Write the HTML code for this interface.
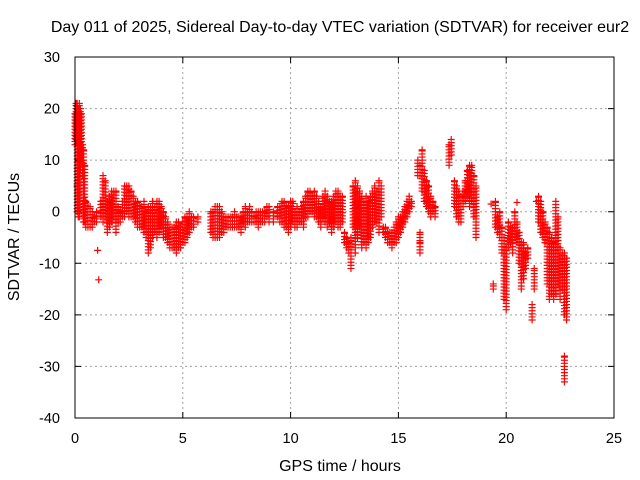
<!DOCTYPE html>
<html><head><meta charset="utf-8"><style>
body{margin:0;background:#fff}
svg{display:block;font-family:"Liberation Sans",sans-serif}
</style></head><body>
<svg id="chart" width="640" height="480">
<rect width="640" height="480" fill="#fff"/>
<text x="340" y="32" text-anchor="middle" font-size="16">Day 011 of 2025, Sidereal Day-to-day VTEC variation (SDTVAR) for receiver eur2</text>
<text transform="translate(19,237) rotate(-90)" text-anchor="middle" font-size="16">SDTVAR / TECUs</text>
<text x="340" y="471" text-anchor="middle" font-size="16">GPS time / hours</text>
<g id="grid"></g><g id="marks"></g>
<rect x="75" y="57" width="539" height="361" fill="none" stroke="#000" stroke-width="1"/>
</svg>
<script>
const xTicks=[0,5,10,15,20,25];
const yTicks=[-40,-30,-20,-10,0,10,20,30];
const rangeT=[0,0.05,0.1,0.15,0.2,0.25,0.3,0.35,0.4,0.45,0.5,0.6,0.7,0.8,0.9,1.0,1.2,1.3,1.4,1.5,1.6,1.7,1.8,1.9,2.0,2.1,2.2,2.3,2.4,2.5,2.6,2.7,2.8,2.9,3.0,3.1,3.2,3.3,3.4,3.5,3.6,3.7,3.8,3.9,4.0,4.1,4.2,4.3,4.4,4.5,4.6,4.7,4.8,4.9,5.0,5.1,5.2,5.3,5.4,5.5,5.7,6.3,6.4,6.5,6.6,6.7,6.8,6.9,7.0,7.1,7.2,7.3,7.4,7.5,7.6,7.7,7.8,7.9,8.0,8.1,8.2,8.3,8.4,8.5,8.6,8.7,8.8,8.9,9.0,9.2,9.4,9.5,9.6,9.7,9.8,9.9,10.0,10.1,10.2,10.3,10.4,10.5,10.6,10.7,10.8,10.9,11.0,11.1,11.2,11.3,11.4,11.5,11.6,11.7,11.8,11.9,12.0,12.1,12.2,12.3,12.4,12.5,12.6,12.7,12.8,12.9,13.0,13.1,13.2,13.3,13.4,13.5,13.6,13.7,13.8,13.9,14.0,14.1,14.2,14.3,14.4,14.5,14.6,14.7,14.8,14.9,15.0,15.1,15.2,15.3,15.4,15.5,15.6,15.9,16.0,16.0,16.1,16.2,16.3,16.4,16.5,16.6,16.7,17.35,17.45,17.6,17.7,17.8,17.9,18.0,18.1,18.2,18.3,18.4,18.5,18.6,19.4,19.5,19.6,19.7,19.8,19.9,20.0,20.1,20.2,20.3,20.4,20.5,20.6,20.7,20.8,20.9,21.0,21.2,21.3,21.5,21.6,21.7,21.8,21.9,22.0,22.1,22.2,22.3,22.4,22.5,22.6,22.7,22.8,22.7];
const rangeLo=[13,14,0,-1,-1,8,10,7,-2,-2,-3,-3,-3,-3,-2,-2,-1,-2,-1,-4,-3,-2,-1,-4,-2,-2,-1,-1,0,-1,-1,-1,-2,-3,-3,-3,-4,-5,-8,-7,-5,-4,-5,-4,-3,-5,-5,-6,-7,-7,-7,-8,-7,-7,-6,-6,-5,-4,-3,-3,-2,-4,-5,-5,-5,-5,-4,-4,-3,-3,-3,-3,-3,-3,-3,-4,-2,-3,-2,-2,-2,-2,-2,-3,-2,-2,-2,-1,-2,-2,-1,-2,-2,-3,-3,-4,-3,-2,-3,-3,-2,-2,-3,-1,-1,0,0,-1,-1,-2,-3,-1,-2,-3,-2,-4,-3,-2,-3,-3,-2,-6,-7,-8,-11,-3,-7,-5,-3,-7,-6,-7,-6,-5,-3,-2,-2,-4,-1,-4,-5,-6,-6,-7,-6,-6,-5,-4,-3,-2,-1,0,1,7,-8,7,4,2,1,0,-1,0,-1,9,11,1,-1,-2,-2,1,2,3,1,2,-1,-5,-15,-3,-4,-5,-8,-17,-19,-7,-6,-8,-5,-6,-10,-15,-13,-11,-9,-21,-15,-2,-4,-5,-6,-14,-17,-16,-17,-16,-14,-17,-15,-20,-21,-33];
const rangeHi=[19,21,21,20,21,20,19,13,12,9,2,1,1,0,-1,0,2,7,6,2,3,4,4,4,1,0,2,5,5,5,4,3,2,2,1,1,2,0,1,1,2,1,2,2,1,0,-1,-2,-3,-3,-3,-2,-2,-3,-2,-1,-1,0,-1,-1,-1,0,0,1,1,1,0,-1,-1,-1,-1,-1,0,-1,-1,-1,0,1,0,1,0,-1,0,0,0,0,0,1,1,0,1,1,2,2,1,1,2,2,0,1,0,1,2,3,4,4,3,4,3,2,1,3,4,3,2,2,3,4,4,3,3,-4,-5,-6,-5,5,6,5,4,3,2,3,2,3,4,5,4,6,5,-3,-3,-4,-4,-4,-3,-2,-1,-1,0,1,2,3,2,10,-4,9,12,8,6,5,3,2,1,13,14,6,5,4,3,4,6,8,9,9,7,5,-14,2,-1,0,-3,-5,-7,-2,-3,-3,0,-2,-4,-6,-6,-8,-7,-18,-11,3,2,0,-2,-3,-4,-5,-6,2,-1,-7,-8,-8,-9,-28];
const singleT=[1.1,1.05,0.1,21.4,19.3,20.5,16.0,13.0];
const singleV=[-13.2,-7.5,5,2,1.5,1.8,-6,-8];

const X0=75,X1=614,Y0=418,Y1=57;
const xs=t=>X0+(t-0)/(25-0)*(X1-X0);
const ys=v=>Y0-(v+40)/70*(Y0-Y1);
const NS='http://www.w3.org/2000/svg';
const svg=document.getElementById('chart');
const grid=document.getElementById('grid');
const marks=document.getElementById('marks');
function mk(tag,attrs,parent){const e=document.createElementNS(NS,tag);for(const k in attrs)e.setAttribute(k,attrs[k]);parent.appendChild(e);return e;}
xTicks.forEach(t=>{
  const x=xs(t);
  if(t>0&&t<25){const g=mk('line',{x1:x,x2:x,y1:Y1,y2:Y0,stroke:'#a0a0a0','stroke-dasharray':'2,3'},grid);
  
  }
  const tk=mk('path',{d:`M${x},${Y0}v-6M${x},${Y1}v6`,stroke:'#000'},grid);
  
  
  const l=mk('text',{x:x,y:443,'text-anchor':'middle','font-size':'14.5'},svg);
  l.textContent=t;
  
  
});
yTicks.forEach(v=>{
  const y=ys(v);
  if(v>-40&&v<30){const g=mk('line',{x1:X0,x2:X1,y1:y,y2:y,stroke:'#a0a0a0','stroke-dasharray':'2,3'},grid);
  
  }
  const tk=mk('path',{d:`M${X0},${y}h6M${X1},${y}h-6`,stroke:'#000'},grid);
  
  
  const l=mk('text',{x:60,y:y+5,'text-anchor':'end','font-size':'14.5'},svg);
  l.textContent=v;
  
  
});
function cross(x,y){return `M${x-3.5},${y}h7M${x},${y-3.5}v7`;}
rangeT.forEach((t,i)=>{
  const x=xs(t);let d='';
  const lo=rangeLo[i],hi=rangeHi[i];
  for(let v=lo;v<=hi+0.001;v+=0.6)d+=cross(x,ys(v));
  d+=cross(x,ys(hi));
  const p=mk('path',{d:d,stroke:'#ff0000','stroke-width':'1.2',fill:'none'},marks);
  
  
});
singleT.forEach((t,i)=>{
  const p=mk('path',{d:cross(xs(t),ys(singleV[i])),stroke:'#ff0000','stroke-width':'1.2',fill:'none'},marks);
  
  
});
</script>
</body></html>
